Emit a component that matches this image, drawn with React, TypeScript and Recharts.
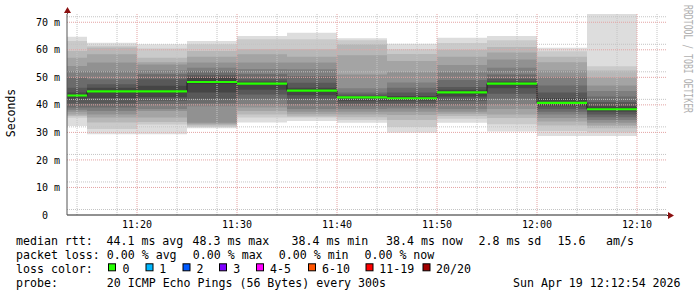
import React from "react";
import { ComposedChart, Area, Line, XAxis, YAxis, CartesianGrid } from "recharts";

const FONT = '"DejaVu Sans Mono", monospace';

// column start, minutes after midnight (first column is a partial one)
const times = [673, 675, 680, 685, 690, 695, 700, 705, 710, 715, 720, 725];
const endTime = 730;

const medians = [43.4, 44.9, 44.9, 48.3, 47.7, 45.2, 42.7, 42.4, 44.5, 47.7, 40.7, 38.4];

// 20 sorted rtts (ms) per column
const pingsA = [32.3, 35.3, 36.0, 36.5, 37.5, 38.2, 39.0, 40.5, 42.0, 43.2, 43.6, 44.5, 46.2, 49.9, 52.3, 54.1, 57.1, 59.6, 63.2, 64.7];
const pingsB = [29.3, 31.2, 33.6, 35.4, 36.5, 37.8, 39.0, 40.5, 42.5, 44.6, 45.2, 46.2, 47.5, 49.3, 52.3, 55.4, 58.4, 60.8, 61.5, 62.6];
const pingsC = [29.3, 32.9, 33.8, 35.4, 37.8, 38.5, 40.2, 41.5, 42.8, 44.5, 45.3, 46.9, 49.3, 51.1, 52.5, 54.7, 55.5, 57.1, 60.5, 62.0];
const pingsD = [31.5, 32.0, 32.5, 33.0, 33.5, 39.5, 40.5, 42.0, 44.5, 47.8, 48.8, 49.9, 50.8, 52.3, 53.5, 55.4, 57.5, 59.6, 62.0, 63.2];
const pingsE = [33.6, 35.4, 36.5, 37.8, 39.0, 40.2, 42.0, 43.8, 45.5, 47.5, 47.9, 48.5, 49.3, 51.1, 53.0, 55.4, 58.4, 60.2, 63.8, 65.0];
const pingsF = [34.1, 35.4, 35.8, 36.6, 37.5, 38.5, 40.2, 42.0, 43.5, 44.8, 45.6, 46.2, 48.0, 50.5, 52.9, 55.4, 57.5, 60.2, 63.8, 66.2];
const pingsG = [33.5, 34.5, 35.5, 36.5, 37.5, 38.5, 39.5, 40.5, 41.5, 42.5, 42.9, 43.2, 43.8, 44.5, 46.0, 51.0, 58.0, 62.0, 63.5, 64.2];
const pingsH = [29.9, 32.0, 34.5, 36.3, 37.5, 38.7, 39.5, 40.5, 41.5, 42.2, 42.6, 43.2, 44.5, 46.2, 48.1, 52.0, 55.9, 58.5, 60.2, 62.2];
const pingsI = [33.5, 35.0, 36.0, 36.8, 37.5, 38.5, 40.0, 41.5, 43.0, 44.2, 44.8, 45.5, 46.5, 49.0, 52.0, 54.5, 57.5, 60.0, 62.5, 64.4];
const pingsJ = [30.3, 33.0, 35.2, 36.5, 38.5, 40.0, 42.0, 44.0, 46.0, 47.5, 47.9, 48.5, 49.5, 51.0, 53.5, 56.5, 59.0, 61.0, 63.5, 65.0];
const pingsK = [28.7, 30.5, 32.5, 34.0, 35.2, 36.5, 37.5, 38.5, 39.5, 40.4, 41.0, 42.5, 44.5, 47.0, 50.2, 52.5, 55.5, 57.5, 59.5, 60.7];
const pingsL = [28.7, 30.0, 31.5, 32.5, 33.5, 34.5, 35.5, 36.5, 37.5, 38.3, 38.7, 39.5, 41.0, 43.0, 45.0, 47.0, 50.0, 52.5, 54.0, 78.0];
const pings = [pingsA, pingsB, pingsC, pingsD, pingsE, pingsF, pingsG, pingsH, pingsI, pingsJ, pingsK, pingsL];

const yTicks = [0, 10, 20, 30, 40, 50, 60, 70];
const xTicks = [680, 690, 700, 710, 720, 730];
const xTickLabels = ["11:20", "11:30", "11:40", "11:50", "12:00", "12:10"];

const smokeGreys = ["#dddddd", "#cacaca", "#b7b7b7", "#a4a4a4", "#919191", "#7e7e7e", "#6b6b6b", "#585858", "#454545", "#323232"];

const lossLabels = ["0", "1", "2", "3", "4-5", "6-10", "11-19", "20/20"];
const lossColors = ["#26ff00", "#00b8ff", "#0059ff", "#7e00ff", "#ff00ff", "#ff5500", "#ff0000", "#a10000"];

const rows: any[] = times.map((t, i) => {
  const p = pings[i];
  const row: any = { t, med: medians[i], medBar: [medians[i] - 0.4, medians[i] + 0.4] };
  for (let k = 0; k < 10; k++) row["s" + k] = [p[k], p[19 - k]];
  return row;
});
rows.push({ ...rows[rows.length - 1], t: endTime });

const minorY: number[] = [];
for (let v = 2; v <= 72; v += 2) if (v % 10) minorY.push(v);
const minorX: number[] = [];
for (let m = 674; m <= 732; m += 2) if (m % 10) minorX.push(m);

const YTick = (props: any) => {
  const { x, y, payload } = props;
  const label = payload.value === 0 ? "0  " : `${payload.value} m`;
  return (
    <text x={x} y={y} dy={3.6} textAnchor="end" fontFamily={FONT} fontSize={10} fill="#000" style={{ whiteSpace: "pre" }}>
      {label}
    </text>
  );
};

const XTick = (props: any) => {
  const { x, y, payload } = props;
  const idx = xTicks.indexOf(payload.value);
  return (
    <text x={x} y={y + 13} textAnchor="middle" fontFamily={FONT} fontSize={10} fill="#000">
      {xTickLabels[idx]}
    </text>
  );
};

const row1: [string, number][] = [
  ["median rtt:", 16], ["44.1 ms avg", 106.5], ["48.3 ms max", 192.5], ["38.4 ms min", 291.5],
  ["38.4 ms now", 386], ["2.8 ms sd", 478.5], ["15.6", 557.5], ["am/s", 606],
];
const row2: [string, number][] = [
  ["packet loss:", 16], ["0.00 % avg", 106.8], ["0.00 % max", 192.8], ["0.00 % min", 278.8], ["0.00 % now", 364.5],
];
const swatchX = [108.5, 146, 183, 219.5, 256.5, 308.5, 366, 423];
const swatchLabelX = [122.6, 159.3, 196.6, 233.3, 270, 322, 379.3, 436];

const txt = (s: string, x: number, y: number, key: string) => (
  <text key={key} x={x} y={y} fontFamily={FONT} fontSize={11.6} fill="#000" style={{ whiteSpace: "pre" }}>
    {s}
  </text>
);

export default function App() {
  return (
    <div style={{ position: "absolute", left: 0, top: 0, width: 697, height: 297, background: "#fff" }}>
      <ComposedChart width={697} height={297} data={rows} margin={{ top: 14, right: 30, bottom: 62, left: 0 }}>
        <XAxis
          dataKey="t"
          type="number"
          domain={[673, 733]}
          ticks={xTicks}
          tick={<XTick />}
          tickSize={0}
          tickMargin={0}
          height={20}
          axisLine={{ stroke: "#222" }}
          tickLine={false}
          allowDataOverflow
        />
        <YAxis
          type="number"
          domain={[0, 73]}
          ticks={yTicks}
          tick={<YTick />}
          tickSize={0}
          tickMargin={7}
          width={67}
          axisLine={{ stroke: "#555" }}
          tickLine={false}
          allowDataOverflow
        />
        {smokeGreys.map((c, k) => (
          <Area
            key={k}
            dataKey={"s" + k}
            type="stepAfter"
            stroke="none"
            fill={c}
            fillOpacity={1}
            dot={false}
            activeDot={false}
            isAnimationActive={false}
          />
        ))}
        <CartesianGrid horizontalValues={minorY} verticalValues={minorX} stroke="#c4c4c4" strokeDasharray="1 1" zIndex={150} />
        <CartesianGrid horizontalValues={[10, 20, 30, 40, 50, 60, 70]} verticalValues={xTicks} stroke="#e3a3a3" strokeDasharray="1 1" zIndex={151} />
        <Line dataKey="med" type="stepAfter" stroke="#202020" strokeWidth={1} dot={false} activeDot={false} isAnimationActive={false} zIndex={160} />
        <Area
          dataKey="medBar"
          type="stepAfter"
          stroke="none"
          fill="#26ff00"
          fillOpacity={1}
          dot={false}
          activeDot={false}
          isAnimationActive={false}
          zIndex={170}
        />
      </ComposedChart>
      <svg width={697} height={297} style={{ position: "absolute", left: 0, top: 0, pointerEvents: "none" }}>
        {/* axis extensions and arrows */}
        <line x1={67.5} y1={14} x2={67.5} y2={11} stroke="#555" />
        <polygon points="64,13 71,13 67.5,7" fill="#8b1010" />
        <line x1={667} y1={215.5} x2={669} y2={215.5} stroke="#222" />
        <polygon points="668,212 668,219 674,215.5" fill="#8b1010" />
        <text transform="translate(15,113) rotate(-90)" textAnchor="middle" fontFamily={FONT} fontSize={11.5} fill="#000">
          Seconds
        </text>
        <text
          transform="translate(684,5) rotate(90)"
          fontFamily={FONT}
          fontSize={11.5}
          fill="#b0b0b0"
          textLength={108}
          lengthAdjust="spacingAndGlyphs"
        >
          RRDTOOL / TOBI OETIKER
        </text>
        {row1.map(([s, x], i) => txt(s, x, 244.5, "r1" + i))}
        {row2.map(([s, x], i) => txt(s, x, 258.8, "r2" + i))}
        {txt("loss color:", 16, 272.6, "r3")}
        {lossColors.map((c, i) => (
          <rect key={"sw" + i} x={swatchX[i]} y={263.8} width={7} height={7} fill={c} stroke="#000" strokeWidth={1} />
        ))}
        {lossLabels.map((s, i) => txt(s, swatchLabelX[i], 272.6, "ll" + i))}
        {txt("probe:", 16, 286.5, "r4a")}
        {txt("20 ICMP Echo Pings (56 Bytes) every 300s", 106.8, 286.5, "r4b")}
        {txt("Sun Apr 19 12:12:54 2026", 513, 286.5, "r4c")}
      </svg>
    </div>
  );
}
